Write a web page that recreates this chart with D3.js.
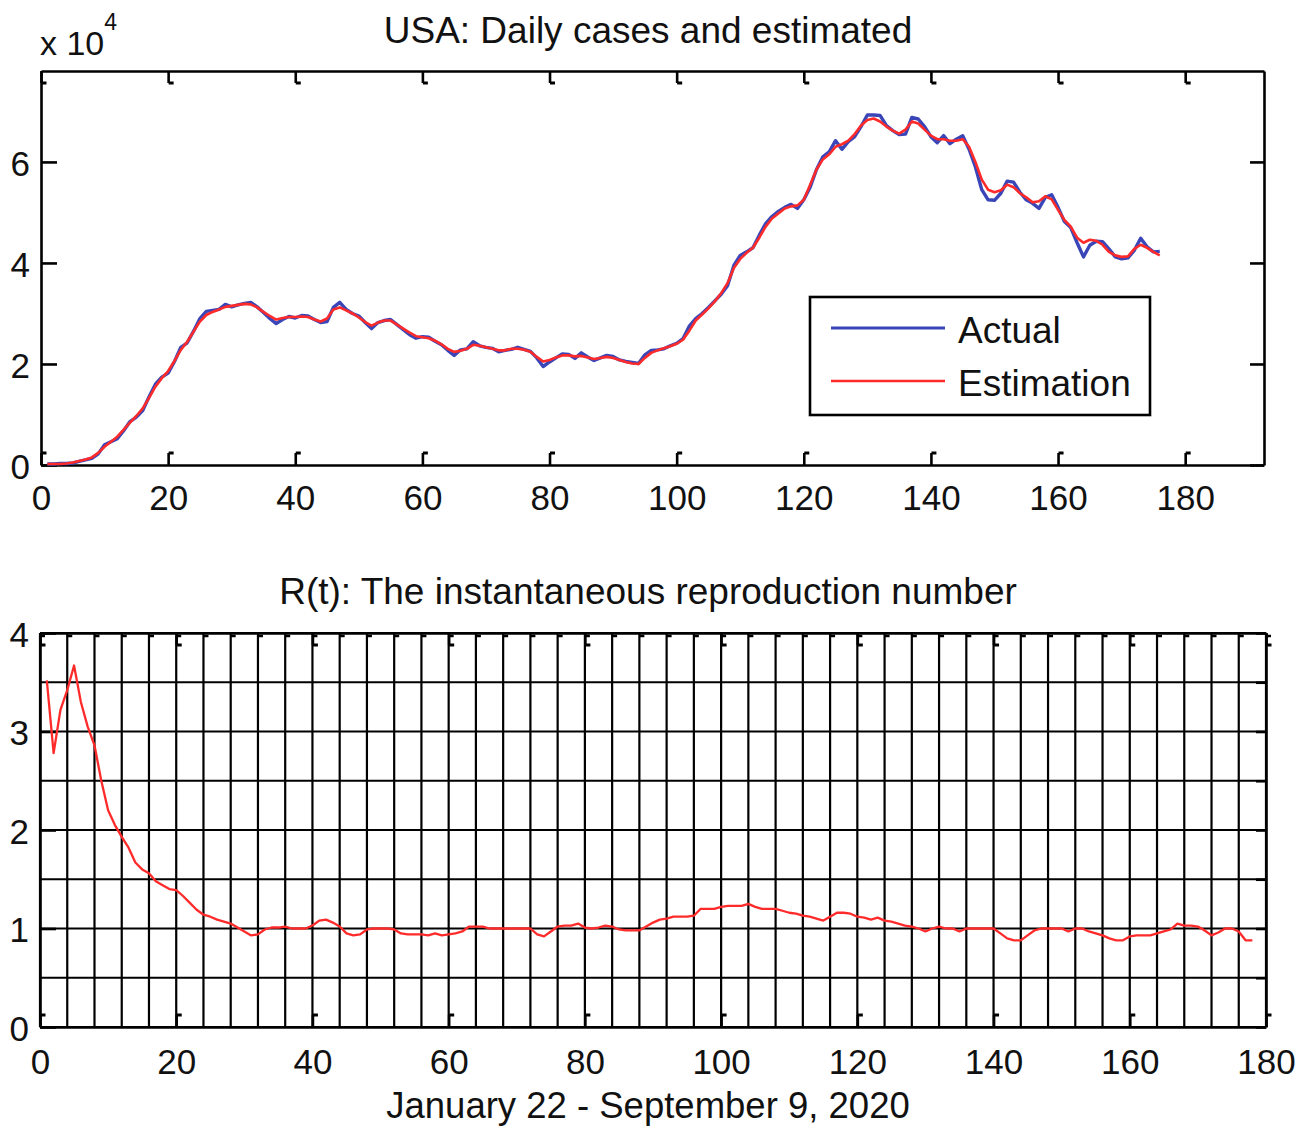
<!DOCTYPE html>
<html>
<head>
<meta charset="utf-8">
<script src="https://cdn.jsdelivr.net/npm/d3@7"></script>
<style>
	body { margin: 0; background: #fff; }
	svg text { font-family: 'Liberation Sans', Arial, sans-serif; fill: #111; }
</style>
</head>
<body>
<div id="chart"></div>
<script>
// data, day index 1..n
var caseDays = d3.range(1, 177);
// actual daily cases (x 10^4)
var actualCases = [
	0.02, 0.02, 0.03, 0.03, 0.04, 0.07, 0.1, 0.13, 0.22, 0.4,
	0.46, 0.52, 0.68, 0.86, 0.95, 1.08, 1.35, 1.6, 1.74, 1.82,
	2.05, 2.33, 2.42, 2.65, 2.9, 3.04, 3.06, 3.08, 3.18, 3.13,
	3.17, 3.2, 3.22, 3.13, 3.02, 2.9, 2.8, 2.88, 2.94, 2.91,
	2.96, 2.95, 2.88, 2.82, 2.84, 3.12, 3.22, 3.08, 3.0, 2.95,
	2.82, 2.7, 2.82, 2.86, 2.88, 2.78, 2.68, 2.58, 2.51, 2.54,
	2.53, 2.45, 2.38, 2.27, 2.17, 2.28, 2.3, 2.44, 2.36, 2.33,
	2.31, 2.24, 2.27, 2.29, 2.33, 2.29, 2.25, 2.12, 1.95, 2.04,
	2.12, 2.2, 2.19, 2.11, 2.22, 2.14, 2.07, 2.12, 2.17, 2.15,
	2.08, 2.05, 2.03, 2.01, 2.18, 2.27, 2.28, 2.3, 2.36, 2.41,
	2.5, 2.75, 2.9, 3.0, 3.12, 3.25, 3.38, 3.55, 3.95, 4.15,
	4.22, 4.3, 4.55, 4.78, 4.92, 5.02, 5.1, 5.16, 5.08, 5.25,
	5.5, 5.85, 6.1, 6.2, 6.42, 6.25, 6.4, 6.5, 6.7, 6.93,
	6.93, 6.92, 6.72, 6.62, 6.54, 6.55, 6.88, 6.85, 6.7, 6.5,
	6.38, 6.52, 6.36, 6.45, 6.52, 6.25, 5.9, 5.45, 5.25, 5.24,
	5.38, 5.62, 5.6, 5.4, 5.25, 5.18, 5.08, 5.3, 5.35, 5.1,
	4.82, 4.7, 4.4, 4.12, 4.35, 4.43, 4.42, 4.28, 4.12, 4.08,
	4.1, 4.25, 4.49, 4.32, 4.22, 4.23
];
// estimated daily cases (x 10^4)
var estimatedCases = [
	0.02, 0.02, 0.02, 0.03, 0.05, 0.08, 0.11, 0.15, 0.24, 0.36,
	0.46, 0.56, 0.7, 0.84, 0.97, 1.12, 1.33, 1.55, 1.72, 1.86,
	2.06, 2.28, 2.44, 2.64, 2.84, 2.97, 3.03, 3.08, 3.13, 3.15,
	3.17, 3.19, 3.18, 3.12, 3.03, 2.95, 2.88, 2.91, 2.93, 2.93,
	2.94, 2.93, 2.88, 2.84, 2.9, 3.08, 3.12, 3.06, 3.0, 2.92,
	2.83, 2.76, 2.82, 2.86, 2.86, 2.78, 2.7, 2.62, 2.55, 2.53,
	2.51, 2.46, 2.39, 2.3, 2.24, 2.26, 2.3, 2.38, 2.36, 2.33,
	2.3, 2.27, 2.27, 2.3, 2.3, 2.28, 2.24, 2.14, 2.05, 2.08,
	2.13, 2.17, 2.17, 2.15, 2.16, 2.13, 2.1, 2.12, 2.14, 2.12,
	2.08, 2.04, 2.01, 2.0, 2.12, 2.22, 2.27, 2.31, 2.35, 2.4,
	2.48, 2.66, 2.86, 2.98, 3.1, 3.24, 3.4, 3.6, 3.9, 4.08,
	4.2, 4.3, 4.5, 4.72, 4.88, 4.98, 5.08, 5.12, 5.14, 5.25,
	5.55, 5.85, 6.05, 6.15, 6.3, 6.35, 6.42, 6.55, 6.72, 6.83,
	6.86, 6.8, 6.7, 6.62, 6.56, 6.64, 6.8, 6.76, 6.64, 6.52,
	6.45, 6.45, 6.42, 6.42, 6.45, 6.3, 6.0, 5.65, 5.45, 5.4,
	5.44, 5.55, 5.5, 5.38, 5.3, 5.2, 5.22, 5.32, 5.26, 5.05,
	4.85, 4.72, 4.5, 4.4, 4.46, 4.44, 4.36, 4.22, 4.15, 4.12,
	4.13, 4.28, 4.36, 4.3, 4.22, 4.15
];

var rDays = d3.range(1, 179);
// instantaneous reproduction number R(t)
var rValues = [
	3.52, 2.78, 3.22, 3.42, 3.67, 3.3, 3.05, 2.86, 2.5, 2.2,
	2.05, 1.93, 1.82, 1.67, 1.6, 1.56, 1.48, 1.44, 1.4, 1.39,
	1.33, 1.26, 1.19, 1.14, 1.12, 1.09, 1.07, 1.05, 1.01, 0.97,
	0.93, 0.94, 0.99, 1.01, 1.01, 1.02, 1.0, 1.0, 1.0, 1.03,
	1.08, 1.09, 1.06, 1.02, 0.95, 0.93, 0.94, 0.99, 1.0, 1.0,
	1.0, 0.99, 0.95, 0.94, 0.94, 0.94, 0.93, 0.95, 0.93, 0.94,
	0.95, 0.97, 1.02, 1.02, 1.02, 1.0, 1.0, 1.0, 1.0, 1.0,
	1.0, 1.0, 0.94, 0.92, 0.97, 1.02, 1.03, 1.03, 1.05, 1.01,
	1.0, 1.01, 1.03, 1.02, 0.99, 0.98, 0.98, 0.98, 1.02, 1.06,
	1.09, 1.1, 1.12, 1.12, 1.12, 1.13, 1.2, 1.2, 1.2, 1.22,
	1.23, 1.23, 1.23, 1.25, 1.22, 1.2, 1.2, 1.2, 1.18, 1.16,
	1.15, 1.13, 1.12, 1.1, 1.08, 1.12, 1.16, 1.16, 1.15, 1.12,
	1.11, 1.09, 1.11, 1.08, 1.07, 1.05, 1.03, 1.02, 1.0, 0.97,
	1.0, 1.02, 1.0, 1.0, 0.97, 1.0, 1.0, 1.0, 1.0, 1.0,
	0.95, 0.9, 0.88, 0.88, 0.93, 0.98, 1.0, 1.0, 1.0, 1.0,
	0.97, 1.0, 1.0, 0.97, 0.95, 0.93, 0.9, 0.88, 0.88, 0.92,
	0.93, 0.93, 0.93, 0.95, 0.97, 0.99, 1.05, 1.03, 1.03, 1.02,
	0.98, 0.93, 0.96, 1.0, 1.0, 0.97, 0.88, 0.88
];

var xTickValues = [0, 20, 40, 60, 80, 100, 120, 140, 160, 180];
var caseYTicks = [0, 2, 4, 6];
var rYTicks = [0, 1, 2, 3, 4];
var rGridX = d3.range(0, 181, 4);
var rGridY = [0, 0.5, 1, 1.5, 2, 2.5, 3, 3.5, 4];

var w = 1312,
	h = 1130;

var blue = '#3a46b8',
	red = '#ff2b2b';

var fmt = d3.format('d');

var svg = d3.select('#chart').append('svg').attr('width', w).attr('height', h);
svg.append('rect').attr('width', w).attr('height', h).attr('fill', '#fff');

// add small "feet" to tick marks like the printed matlab figure
function feet(g, dx, dy) {
	g.selectAll('.tick line').each(function() {
		var l = d3.select(this);
		var x2 = +l.attr('x2') || 0,
			y2 = +l.attr('y2') || 0;
		d3.select(this.parentNode)
			.append('line')
			.attr('x1', x2)
			.attr('y1', y2)
			.attr('x2', x2 + dx)
			.attr('y2', y2 + dy)
			.attr('stroke', '#000')
			.attr('stroke-width', 3);
	});
}

function styleAxis(g, fs) {
	g.select('.domain').attr('stroke', '#000').attr('stroke-width', 2.6);
	g.selectAll('.tick line').attr('stroke', '#000').attr('stroke-width', 2.6);
	g.selectAll('.tick text').attr('font-size', fs).attr('fill', '#111');
}

//// top panel: daily cases
var topBox = { left: 41, right: 1264, top: 71, bottom: 465 };

var xCases = d3.scaleLinear().domain([ 0, 192.4 ]).range([ topBox.left, topBox.right ]);
var yCases = d3.scaleLinear().domain([ 0, 7.8 ]).range([ topBox.bottom, topBox.top ]);

var p1 = svg.append('g');

var gxb = p1
	.append('g')
	.attr('transform', 'translate(0,' + topBox.bottom + ')')
	.call(d3.axisBottom(xCases).tickValues(xTickValues).tickFormat(fmt).tickSize(-12).tickSizeOuter(0).tickPadding(20));
styleAxis(gxb, 35);
feet(gxb, 5, 0);

var gxt = p1
	.append('g')
	.attr('transform', 'translate(0,' + topBox.top + ')')
	.call(d3.axisTop(xCases).tickValues(xTickValues).tickSize(-12).tickSizeOuter(0).tickFormat(''));
styleAxis(gxt, 35);
feet(gxt, 5, 0);

var gyl = p1
	.append('g')
	.attr('transform', 'translate(' + topBox.left + ',0)')
	.call(d3.axisLeft(yCases).tickValues(caseYTicks).tickFormat(fmt).tickSize(-16).tickSizeOuter(0).tickPadding(11));
styleAxis(gyl, 35);
gyl.selectAll('.tick text').attr('dy', '0.38em');

var gyr = p1
	.append('g')
	.attr('transform', 'translate(' + topBox.right + ',0)')
	.call(d3.axisRight(yCases).tickValues(caseYTicks).tickSize(-14).tickSizeOuter(0).tickFormat(''));
styleAxis(gyr, 35);

var caseLine = d3
	.line()
	.x(function(d) {
		return xCases(d[0]);
	})
	.y(function(d) {
		return yCases(d[1]);
	});

p1
	.append('path')
	.datum(d3.zip(caseDays, actualCases))
	.attr('d', caseLine)
	.attr('fill', 'none')
	.attr('stroke', blue)
	.attr('stroke-width', 3.4)
	.attr('stroke-linejoin', 'round');

p1
	.append('path')
	.datum(d3.zip(caseDays, estimatedCases))
	.attr('d', caseLine)
	.attr('fill', 'none')
	.attr('stroke', red)
	.attr('stroke-width', 2.6)
	.attr('stroke-linejoin', 'round');

p1
	.append('text')
	.attr('x', 648)
	.attr('y', 43)
	.attr('text-anchor', 'middle')
	.attr('font-size', 37)
	.text('USA: Daily cases and estimated');

var expo = p1.append('text').attr('x', 40).attr('y', 55).attr('font-size', 34);
expo.append('tspan').text('x 10');
expo.append('tspan').attr('font-size', 23).attr('dy', -25).text('4');

// legend
var leg = p1.append('g');
leg
	.append('rect')
	.attr('x', 810)
	.attr('y', 297)
	.attr('width', 340)
	.attr('height', 118)
	.attr('fill', '#fff')
	.attr('stroke', '#000')
	.attr('stroke-width', 2.6);

var legItems = [ { name: 'Actual', color: blue, w: 3.2 }, { name: 'Estimation', color: red, w: 2.6 } ];
legItems.forEach(function(d, i) {
	var cy = 328 + i * 53;
	leg
		.append('line')
		.attr('x1', 831)
		.attr('x2', 945)
		.attr('y1', cy)
		.attr('y2', cy)
		.attr('stroke', d.color)
		.attr('stroke-width', d.w);
	leg.append('text').attr('x', 958).attr('y', cy + 15).attr('font-size', 37).text(d.name);
});

//// bottom panel: R(t)
var botBox = { left: 40, right: 1266, top: 633, bottom: 1027 };

var xR = d3.scaleLinear().domain([ 0, 180 ]).range([ botBox.left, botBox.right ]);
var yR = d3.scaleLinear().domain([ 0, 4 ]).range([ botBox.bottom, botBox.top ]);

var p2 = svg.append('g');

// grid
p2
	.selectAll('.vgrid')
	.data(rGridX)
	.enter()
	.append('line')
	.attr('class', 'vgrid')
	.attr('x1', function(d) {
		return xR(d);
	})
	.attr('x2', function(d) {
		return xR(d);
	})
	.attr('y1', botBox.top)
	.attr('y2', botBox.bottom)
	.attr('stroke', '#000')
	.attr('stroke-width', 2.2);

p2
	.selectAll('.hgrid')
	.data(rGridY)
	.enter()
	.append('line')
	.attr('class', 'hgrid')
	.attr('x1', botBox.left)
	.attr('x2', botBox.right)
	.attr('y1', function(d) {
		return yR(d);
	})
	.attr('y2', function(d) {
		return yR(d);
	})
	.attr('stroke', '#000')
	.attr('stroke-width', 2.2);

// small marks on top of each grid line
p2
	.selectAll('.minor')
	.data(rGridX)
	.enter()
	.append('line')
	.attr('class', 'minor')
	.attr('x1', function(d) {
		return xR(d);
	})
	.attr('x2', function(d) {
		return xR(d) + 5;
	})
	.attr('y1', botBox.top + 3)
	.attr('y2', botBox.top + 3)
	.attr('stroke', '#000')
	.attr('stroke-width', 2.5);

var rxb = p2
	.append('g')
	.attr('transform', 'translate(0,' + botBox.bottom + ')')
	.call(d3.axisBottom(xR).tickValues(xTickValues).tickFormat(fmt).tickSize(-12).tickSizeOuter(0).tickPadding(22));
styleAxis(rxb, 35);
feet(rxb, 5, 0);

var rxt = p2
	.append('g')
	.attr('transform', 'translate(0,' + botBox.top + ')')
	.call(d3.axisTop(xR).tickValues(xTickValues).tickSize(-12).tickSizeOuter(0).tickFormat(''));
styleAxis(rxt, 35);
feet(rxt, 5, 0);

var ryl = p2
	.append('g')
	.attr('transform', 'translate(' + botBox.left + ',0)')
	.call(d3.axisLeft(yR).tickValues(rYTicks).tickFormat(fmt).tickSize(-16).tickSizeOuter(0).tickPadding(11));
styleAxis(ryl, 35);
ryl.selectAll('.tick text').attr('dy', '0.38em');

var ryr = p2
	.append('g')
	.attr('transform', 'translate(' + botBox.right + ',0)')
	.call(d3.axisRight(yR).tickValues(rGridY).tickSize(-10).tickSizeOuter(0).tickFormat(''));
styleAxis(ryr, 35);

var rLine = d3
	.line()
	.x(function(d) {
		return xR(d[0]);
	})
	.y(function(d) {
		return yR(d[1]);
	});

p2
	.append('path')
	.datum(d3.zip(rDays, rValues))
	.attr('d', rLine)
	.attr('fill', 'none')
	.attr('stroke', red)
	.attr('stroke-width', 2.3)
	.attr('stroke-linejoin', 'round');

p2
	.append('text')
	.attr('x', 648)
	.attr('y', 604)
	.attr('text-anchor', 'middle')
	.attr('font-size', 37)
	.text('R(t): The instantaneous reproduction number');

p2
	.append('text')
	.attr('x', 648)
	.attr('y', 1118)
	.attr('text-anchor', 'middle')
	.attr('font-size', 36.5)
	.text('January 22 - September 9, 2020');
</script>
</body>
</html>
